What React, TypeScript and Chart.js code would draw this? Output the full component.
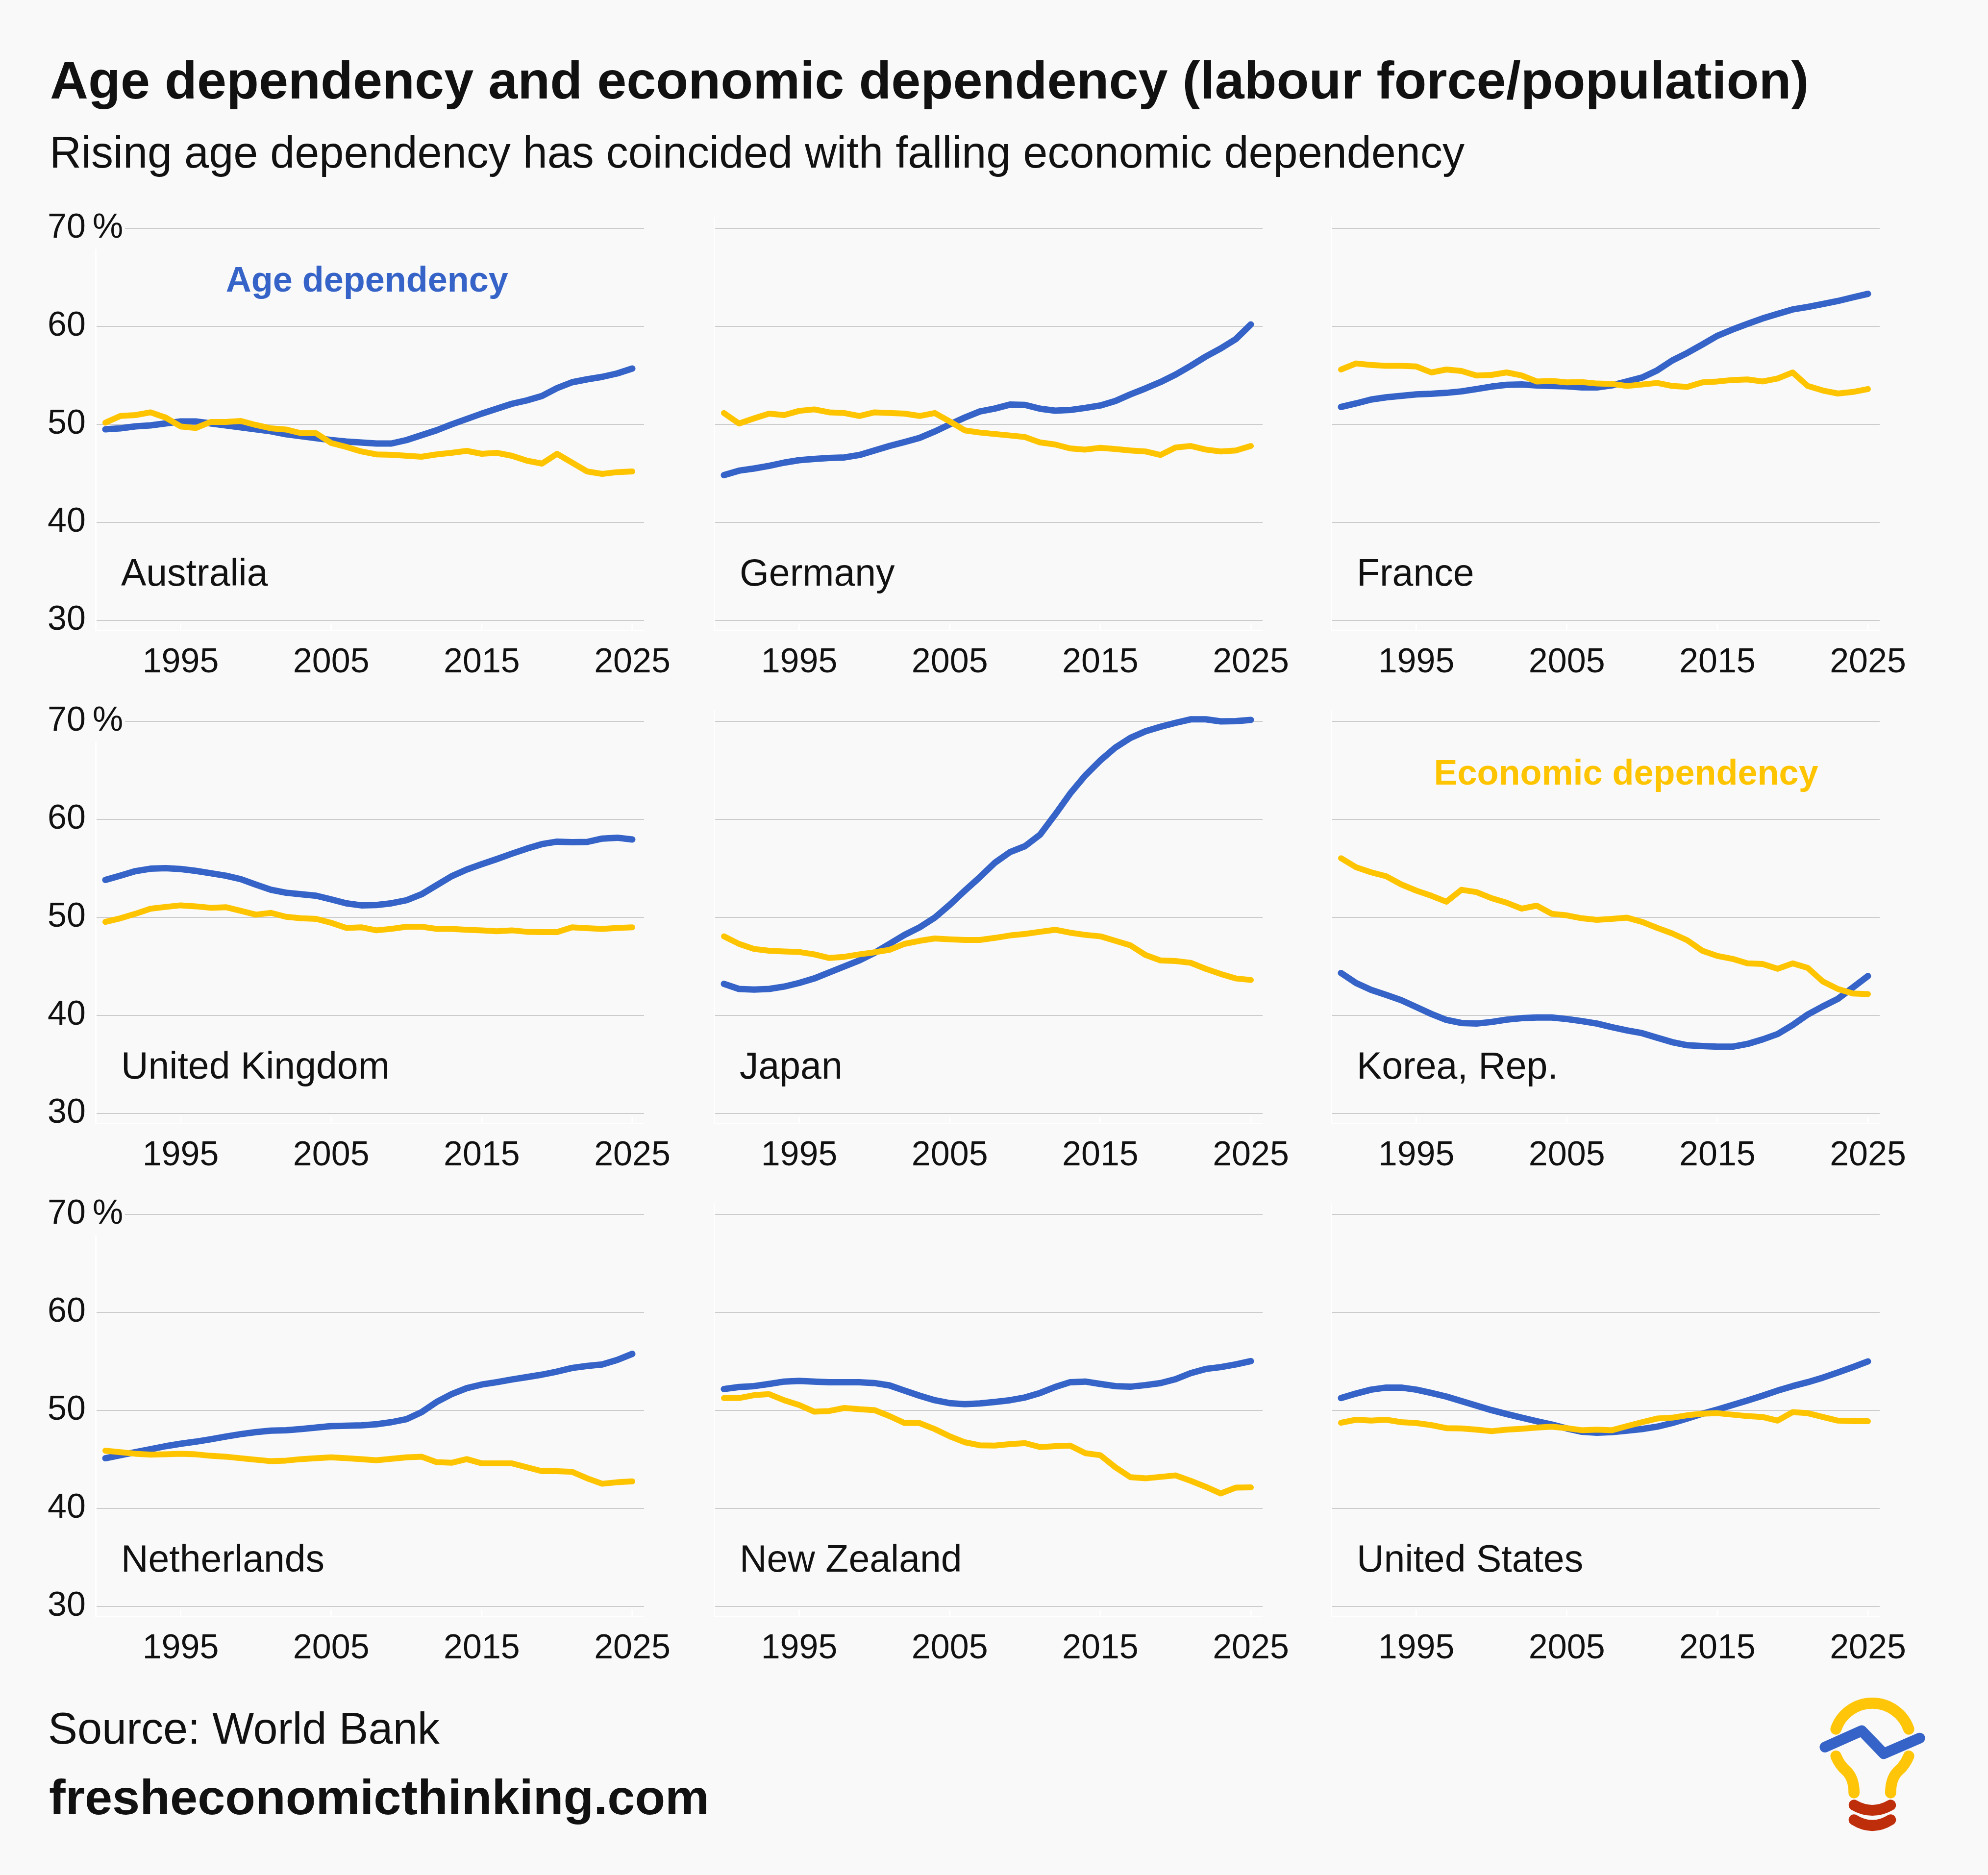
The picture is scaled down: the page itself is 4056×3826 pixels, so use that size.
import React, { useEffect, useRef } from "react";
import { Chart, registerables } from "chart.js";

Chart.register(...registerables);

// ---------- data ----------
const years = [
  1990, 1991, 1992, 1993, 1994, 1995, 1996, 1997, 1998, 1999,
  2000, 2001, 2002, 2003, 2004, 2005, 2006, 2007, 2008, 2009,
  2010, 2011, 2012, 2013, 2014, 2015, 2016, 2017, 2018, 2019,
  2020, 2021, 2022, 2023, 2024, 2025,
];
const xTickYears = [1995, 2005, 2015, 2025];
const yTickValues = [30, 40, 50, 60, 70];

const ageAustralia = [49.5, 49.6, 49.8, 49.9, 50.1, 50.3, 50.3, 50.1, 49.9, 49.7, 49.5, 49.3, 49.0, 48.8, 48.6, 48.4, 48.25, 48.15, 48.05, 48.05, 48.4, 48.9, 49.4, 50.0, 50.55, 51.1, 51.6, 52.1, 52.45, 52.9, 53.7, 54.3, 54.6, 54.85, 55.2, 55.7];
const econAustralia = [50.18, 50.86, 50.95, 51.23, 50.7, 49.79, 49.63, 50.25, 50.25, 50.35, 49.94, 49.6, 49.48, 49.1, 49.1, 48.1, 47.7, 47.24, 46.94, 46.9, 46.8, 46.7, 46.94, 47.1, 47.3, 47.0, 47.1, 46.8, 46.3, 46.0, 47.0, 46.1, 45.2, 44.95, 45.13, 45.2];

const ageGermany = [44.82, 45.28, 45.5, 45.77, 46.1, 46.35, 46.48, 46.57, 46.63, 46.88, 47.34, 47.8, 48.2, 48.62, 49.27, 50.0, 50.7, 51.32, 51.62, 52.02, 51.99, 51.6, 51.4, 51.47, 51.68, 51.93, 52.39, 53.06, 53.67, 54.32, 55.08, 55.97, 56.92, 57.75, 58.7, 60.2];
const econGermany = [51.16, 50.09, 50.61, 51.1, 50.95, 51.38, 51.53, 51.23, 51.16, 50.86, 51.23, 51.16, 51.1, 50.86, 51.16, 50.3, 49.39, 49.17, 49.02, 48.87, 48.71, 48.16, 47.95, 47.55, 47.43, 47.61, 47.49, 47.34, 47.24, 46.88, 47.64, 47.8, 47.43, 47.24, 47.34, 47.8];

const ageFrance = [51.78, 52.14, 52.54, 52.76, 52.91, 53.06, 53.12, 53.22, 53.37, 53.61, 53.86, 54.04, 54.07, 53.98, 53.92, 53.89, 53.77, 53.77, 53.98, 54.38, 54.78, 55.51, 56.52, 57.29, 58.15, 59.04, 59.68, 60.26, 60.81, 61.27, 61.73, 61.98, 62.28, 62.59, 62.96, 63.32];
const econFrance = [55.6, 56.22, 56.06, 55.97, 55.97, 55.91, 55.3, 55.6, 55.45, 54.99, 55.05, 55.3, 54.99, 54.38, 54.44, 54.29, 54.32, 54.17, 54.13, 53.92, 54.07, 54.23, 53.92, 53.83, 54.29, 54.38, 54.53, 54.59, 54.38, 54.68, 55.3, 53.92, 53.46, 53.15, 53.31, 53.61];

const ageUK = [53.83, 54.26, 54.72, 54.97, 55.03, 54.94, 54.75, 54.51, 54.26, 53.9, 53.34, 52.82, 52.52, 52.36, 52.21, 51.84, 51.44, 51.23, 51.26, 51.44, 51.75, 52.36, 53.28, 54.2, 54.88, 55.43, 55.95, 56.5, 57.02, 57.48, 57.73, 57.67, 57.7, 58.04, 58.13, 57.95];
const econUK = [49.54, 49.91, 50.37, 50.89, 51.07, 51.23, 51.13, 50.98, 51.04, 50.67, 50.28, 50.46, 50.06, 49.91, 49.85, 49.45, 48.93, 48.99, 48.68, 48.83, 49.05, 49.05, 48.83, 48.83, 48.74, 48.68, 48.59, 48.68, 48.53, 48.5, 48.5, 48.99, 48.9, 48.83, 48.93, 48.99];

const ageJapan = [43.22, 42.7, 42.64, 42.7, 42.94, 43.31, 43.77, 44.39, 45.0, 45.61, 46.38, 47.3, 48.22, 48.99, 49.97, 51.29, 52.73, 54.11, 55.58, 56.66, 57.27, 58.44, 60.49, 62.64, 64.48, 66.01, 67.33, 68.31, 68.99, 69.45, 69.85, 70.21, 70.21, 70.0, 70.03, 70.15];
const econJapan = [48.07, 47.3, 46.78, 46.6, 46.53, 46.47, 46.23, 45.86, 45.98, 46.23, 46.44, 46.69, 47.3, 47.61, 47.85, 47.76, 47.7, 47.7, 47.91, 48.16, 48.31, 48.53, 48.74, 48.44, 48.22, 48.07, 47.61, 47.15, 46.17, 45.61, 45.55, 45.37, 44.76, 44.23, 43.77, 43.62];

const ageKorea = [44.33, 43.31, 42.61, 42.09, 41.56, 40.86, 40.15, 39.54, 39.23, 39.17, 39.33, 39.57, 39.72, 39.79, 39.79, 39.63, 39.42, 39.17, 38.8, 38.47, 38.19, 37.73, 37.27, 36.96, 36.87, 36.81, 36.81, 37.09, 37.55, 38.1, 39.02, 40.09, 40.92, 41.69, 42.85, 44.02];
const econKorea = [56.04, 55.12, 54.6, 54.2, 53.37, 52.73, 52.21, 51.6, 52.82, 52.58, 51.96, 51.5, 50.89, 51.2, 50.37, 50.21, 49.91, 49.75, 49.85, 49.97, 49.54, 48.93, 48.37, 47.67, 46.6, 46.07, 45.77, 45.31, 45.25, 44.76, 45.31, 44.85, 43.47, 42.7, 42.24, 42.18];

const ageNetherlands = [45.12, 45.43, 45.74, 46.04, 46.35, 46.6, 46.81, 47.06, 47.33, 47.58, 47.79, 47.94, 47.98, 48.1, 48.25, 48.4, 48.44, 48.47, 48.59, 48.8, 49.11, 49.82, 50.86, 51.66, 52.27, 52.64, 52.88, 53.16, 53.4, 53.65, 53.96, 54.33, 54.54, 54.69, 55.15, 55.77];
const econNetherlands = [45.89, 45.74, 45.58, 45.49, 45.52, 45.58, 45.52, 45.37, 45.28, 45.12, 44.97, 44.82, 44.88, 45.03, 45.12, 45.21, 45.12, 45.03, 44.91, 45.06, 45.21, 45.28, 44.72, 44.66, 45.03, 44.6, 44.6, 44.6, 44.2, 43.8, 43.8, 43.74, 43.07, 42.52, 42.67, 42.76];

const ageNewZealand = [52.18, 52.39, 52.48, 52.7, 52.94, 53.01, 52.94, 52.88, 52.88, 52.88, 52.79, 52.55, 52.02, 51.5, 51.04, 50.74, 50.64, 50.71, 50.86, 51.04, 51.32, 51.78, 52.39, 52.88, 52.94, 52.7, 52.48, 52.42, 52.58, 52.79, 53.19, 53.8, 54.23, 54.42, 54.69, 55.03];
const econNewZealand = [51.26, 51.26, 51.56, 51.66, 51.04, 50.55, 49.88, 49.94, 50.25, 50.12, 50.03, 49.42, 48.71, 48.71, 48.1, 47.36, 46.75, 46.44, 46.41, 46.56, 46.66, 46.26, 46.35, 46.41, 45.64, 45.43, 44.2, 43.19, 43.07, 43.22, 43.37, 42.82, 42.21, 41.53, 42.12, 42.15];

const ageUS = [51.26, 51.72, 52.12, 52.33, 52.33, 52.12, 51.78, 51.41, 50.95, 50.49, 50.03, 49.63, 49.26, 48.9, 48.56, 48.16, 47.82, 47.73, 47.79, 47.94, 48.1, 48.34, 48.71, 49.17, 49.66, 50.09, 50.55, 51.01, 51.5, 52.02, 52.48, 52.88, 53.34, 53.87, 54.42, 55.0];
const econUS = [48.74, 49.05, 48.96, 49.05, 48.8, 48.71, 48.5, 48.19, 48.16, 48.04, 47.88, 48.04, 48.13, 48.25, 48.34, 48.19, 47.98, 48.04, 47.98, 48.4, 48.8, 49.17, 49.26, 49.51, 49.66, 49.72, 49.57, 49.42, 49.33, 48.96, 49.82, 49.72, 49.33, 48.96, 48.9, 48.9];

const countryNames = [
  "Australia", "Germany", "France",
  "United Kingdom", "Japan", "Korea, Rep.",
  "Netherlands", "New Zealand", "United States",
];
const ageSeries = [ageAustralia, ageGermany, ageFrance, ageUK, ageJapan, ageKorea, ageNetherlands, ageNewZealand, ageUS];
const econSeries = [econAustralia, econGermany, econFrance, econUK, econJapan, econKorea, econNetherlands, econNewZealand, econUS];

// ---------- styles ----------
const FONT = "'Liberation Sans', Arial, Helvetica, sans-serif";
const BG = "#f9f9f9";
const BLUE = "#3563c7";
const YELLOW = "#ffc400";
const INK = "#111111";

const COL_LEFT = [195, 1457, 2716]; // chart-area left edge on page
const ROW_Y70 = [466, 1472, 2478]; // y of the 70% gridline on page
const Y_AXIS_PAD = 97;
const Y_AXIS_W = 98;
const CANVAS_W = 1414;
const CANVAS_H = 1040;
const X_MIN = 1989.35;
const X_MAX = 2025.78;
const Y_MIN = 29;
const Y_MAX = 71.1;

type Legend = { text: string; color: string; x: number; y: number };

function Panel({ index, legend }: { index: number; legend?: Legend }) {
  const ref = useRef<HTMLCanvasElement>(null);
  const row = Math.floor(index / 3);
  const col = index % 3;
  const left = COL_LEFT[col] - Y_AXIS_PAD - Y_AXIS_W;
  const top = ROW_Y70[row] - 80;

  useEffect(() => {
    const canvas = ref.current;
    if (!canvas) return;
    const name = countryNames[index];
    const age = ageSeries[index];
    const econ = econSeries[index];
    const showY = col === 0;

    const panelPlugin = {
      id: "panelText",
      beforeDatasetsDraw(chart: any) {
        const { ctx, chartArea, scales } = chart;
        ctx.save();
        ctx.strokeStyle = "#ffffff";
        ctx.lineWidth = 3;
        xTickYears.forEach((yr) => {
          const px = scales.x.getPixelForValue(yr);
          ctx.beginPath();
          ctx.moveTo(px, chartArea.bottom);
          ctx.lineTo(px, chartArea.bottom - 13);
          ctx.stroke();
        });
        ctx.restore();
      },
      afterDatasetsDraw(chart: any) {
        const { ctx, scales } = chart;
        ctx.save();
        ctx.textAlign = "left";
        ctx.textBaseline = "alphabetic";
        ctx.fillStyle = INK;
        ctx.font = `77px ${FONT}`;
        ctx.fillText(name, scales.x.getPixelForValue(1991.04), scales.y.getPixelForValue(33.57));
        if (legend) {
          ctx.fillStyle = legend.color;
          ctx.font = `bold 72px ${FONT}`;
          ctx.fillText(legend.text, scales.x.getPixelForValue(legend.x), scales.y.getPixelForValue(legend.y));
        }
        ctx.restore();
      },
    };

    const lineStyle = {
      pointRadius: 0,
      pointHoverRadius: 0,
      tension: 0,
      fill: false,
      borderCapStyle: "round" as const,
      borderJoinStyle: "round" as const,
    };

    const chart = new Chart(canvas, {
      type: "line",
      data: {
        datasets: [
          {
            label: "Economic dependency",
            data: years.map((yr, i) => ({ x: yr, y: econ[i] })),
            borderColor: YELLOW,
            borderWidth: 12,
            ...lineStyle,
          },
          {
            label: "Age dependency",
            data: years.map((yr, i) => ({ x: yr, y: age[i] })),
            borderColor: BLUE,
            borderWidth: 13,
            ...lineStyle,
          },
        ],
      },
      options: {
        animation: false,
        responsive: false,
        devicePixelRatio: 1,
        events: [],
        layout: { padding: { left: Y_AXIS_PAD, top: 58, right: 100, bottom: 0 } },
        plugins: { legend: { display: false }, tooltip: { enabled: false } },
        scales: {
          x: {
            type: "linear",
            min: X_MIN,
            max: X_MAX,
            afterBuildTicks: (s: any) => {
              s.ticks = xTickYears.map((v) => ({ value: v }));
            },
            afterFit: (s: any) => {
              s.height = 140;
            },
            grid: { display: false },
            border: { display: true, color: "#ffffff", width: 3 },
            ticks: {
              font: { family: FONT, size: 70 },
              color: INK,
              padding: 17,
              maxRotation: 0,
              autoSkip: false,
              callback: (v: any) => String(v),
            },
          },
          y: {
            type: "linear",
            min: Y_MIN,
            max: Y_MAX,
            afterBuildTicks: (s: any) => {
              s.ticks = yTickValues.map((v) => ({ value: v }));
            },
            afterFit: (s: any) => {
              s.width = Y_AXIS_W;
            },
            grid: { color: "#cccccc", lineWidth: 2, drawTicks: false },
            border: { display: true, color: "#ffffff", width: 3 },
            ticks: {
              display: showY,
              mirror: true,
              crossAlign: "near",
              padding: -Y_AXIS_W,
              font: { family: FONT, size: 70 },
              color: INK,
              callback: (v: any) => (v === 70 ? "70\u2009%" : String(v)),
              showLabelBackdrop: true,
              backdropColor: BG,
              backdropPadding: { left: 0, right: 4, top: 0, bottom: 0 },
            },
          },
        },
      } as any,
      plugins: [panelPlugin],
    });
    return () => chart.destroy();
  }, []);

  return (
    <canvas
      ref={ref}
      width={CANVAS_W}
      height={CANVAS_H}
      style={{ position: "absolute", left, top, width: CANVAS_W, height: CANVAS_H }}
    />
  );
}

function Logo() {
  return (
    <svg
      style={{ position: "absolute", left: 3600, top: 3400 }}
      width={456}
      height={426}
      viewBox="0 0 1368 1278"
    >
      <g fill="none" strokeLinecap="round" strokeLinejoin="round">
        <path d="M 437 385 A 236 236 0 0 1 883 385" stroke="#ffc508" strokeWidth={68} />
        <path d="M 437 550 Q 460 605 500 640 Q 548 685 548 775" stroke="#ffc508" strokeWidth={68} />
        <path d="M 883 550 Q 860 605 820 640 Q 772 685 772 775" stroke="#ffc508" strokeWidth={68} />
        <path d="M 370 495 L 595 395 L 730 535 L 950 440" stroke="#3563c7" strokeWidth={66} />
        <path d="M 548 850 Q 660 914 772 850" stroke="#bf2e0a" strokeWidth={66} />
        <path d="M 548 940 Q 660 1010 772 940" stroke="#bf2e0a" strokeWidth={66} />
      </g>
    </svg>
  );
}

export default function App() {
  useEffect(() => {
    document.body.style.margin = "0";
    document.body.style.background = BG;
  }, []);

  const text = (extra: React.CSSProperties): React.CSSProperties => ({
    position: "absolute",
    fontFamily: FONT,
    color: INK,
    whiteSpace: "nowrap",
    margin: 0,
    ...extra,
  });

  return (
    <div
      style={{
        position: "absolute",
        left: 0,
        top: 0,
        width: 4056,
        height: 3826,
        background: BG,
        overflow: "hidden",
      }}
    >
      <div style={text({ left: 102, top: 110, fontSize: 108, lineHeight: "108px", fontWeight: 700 })}>
        Age dependency and economic dependency (labour force/population)
      </div>
      <div style={text({ left: 101, top: 266, fontSize: 90, lineHeight: "90px" })}>
        Rising age dependency has coincided with falling economic dependency
      </div>

      {countryNames.map((_, i) => (
        <Panel
          key={i}
          index={i}
          legend={
            i === 0
              ? { text: "Age dependency", color: BLUE, x: 1998.0, y: 63.57 }
              : i === 5
              ? { text: "Economic dependency", color: YELLOW, x: 1996.17, y: 63.57 }
              : undefined
          }
        />
      ))}

      <div style={text({ left: 98, top: 3482, fontSize: 90, lineHeight: "90px" })}>Source: World Bank</div>
      <div style={text({ left: 100, top: 3617, fontSize: 101, lineHeight: "101px", fontWeight: 700 })}>
        fresheconomicthinking.com
      </div>
      <Logo />
    </div>
  );
}
